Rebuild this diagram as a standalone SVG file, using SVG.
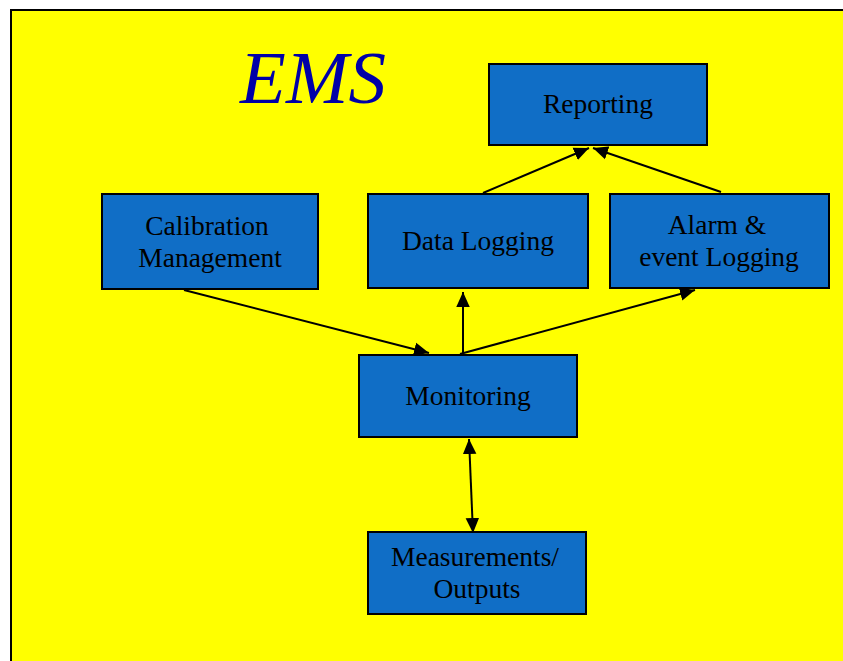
<svg xmlns="http://www.w3.org/2000/svg" width="843" height="661" viewBox="0 0 843 661">
<defs>
<style>
.box{fill:#106EC6;stroke:#000;stroke-width:2}
.lbl{font-family:"Liberation Serif","Times New Roman",serif;font-size:27.5px;fill:#000;text-anchor:middle}
.con{stroke:#000;stroke-width:2;fill:none}
</style>
<marker id="ahb" viewBox="0 0 10 10" refX="10" refY="5" markerWidth="15" markerHeight="15" markerUnits="userSpaceOnUse" orient="auto-start-reverse">
<path d="M0,0.5 L10,5 L0,9.5 z" fill="#000"/>
</marker>
</defs>
<rect x="0" y="0" width="843" height="661" fill="#fff"/>
<rect x="11" y="10" width="840" height="660" fill="#ffff00" stroke="#000" stroke-width="2"/>
<text x="313" y="103" font-family="Liberation Serif,Times New Roman,serif" font-style="italic" font-size="75" fill="#0000A8" text-anchor="middle">EMS</text>
<g id="connectors">
<line class="con" x1="483" y1="193" x2="589" y2="148" marker-end="url(#ahb)"/>
<line class="con" x1="721" y1="192" x2="593" y2="148" marker-end="url(#ahb)"/>
<line class="con" x1="184" y1="290" x2="429" y2="353" marker-end="url(#ahb)"/>
<line class="con" x1="463" y1="354" x2="463" y2="292" marker-end="url(#ahb)"/>
<line class="con" x1="460" y1="354" x2="695" y2="290" marker-end="url(#ahb)"/>
<line class="con" x1="469" y1="439" x2="473" y2="533" marker-start="url(#ahb)" marker-end="url(#ahb)"/>
</g>
<g id="reporting">
<rect class="box" x="489" y="64" width="218" height="81"/>
<text class="lbl" x="598" y="113">Reporting</text>
</g>
<g id="calibration">
<rect class="box" x="102" y="194" width="216" height="95"/>
<text class="lbl" x="207" y="235">Calibration</text>
<text class="lbl" x="210" y="267">Management</text>
</g>
<g id="datalogging">
<rect class="box" x="368" y="194" width="220" height="94"/>
<text class="lbl" x="478" y="250">Data Logging</text>
</g>
<g id="alarm">
<rect class="box" x="610" y="194" width="219" height="94"/>
<text class="lbl" x="717" y="234">Alarm &amp;</text>
<text class="lbl" x="719" y="266">event Logging</text>
</g>
<g id="monitoring">
<rect class="box" x="359" y="355" width="218" height="82"/>
<text class="lbl" x="468" y="405">Monitoring</text>
</g>
<g id="measurements">
<rect class="box" x="368" y="532" width="218" height="82"/>
<text class="lbl" x="475" y="566">Measurements/</text>
<text class="lbl" x="477" y="598">Outputs</text>
</g>
</svg>
